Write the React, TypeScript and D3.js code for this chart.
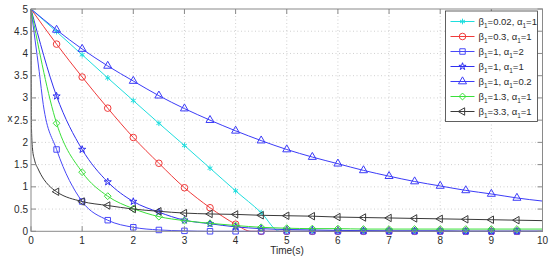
import React from 'react';
import * as d3 from 'd3';

// axis ticks
const timeTicks = [0, 1, 2, 3, 4, 5, 6, 7, 8, 9, 10];
const xTicks = [0, 0.5, 1, 1.5, 2, 2.5, 3, 3.5, 4, 4.5, 5];

const grid = [0, 0.5, 1, 1.5, 2, 2.5, 3, 3.5, 4, 4.5, 5, 5.5, 6, 6.5, 7, 7.5, 8, 8.5, 9, 9.5, 10];

// beta1=0.02, alpha1=1
const cyanT = [0, 0.5, 1, 1.5, 2, 2.5, 3, 3.5, 4, 4.5, 4.86, 5, 5.5, 6, 6.5, 7, 7.5, 8, 8.5, 9, 9.5, 10];
const cyanX = [5, 4.49, 3.97, 3.45, 2.94, 2.43, 1.93, 1.42, 0.91, 0.42, 0, 0, 0, 0, 0, 0, 0, 0, 0, 0, 0, 0];
// beta1=0.3, alpha1=1
const redT = [0, 0.5, 1, 1.5, 2, 2.5, 3, 3.5, 4, 4.3, 4.5, 5, 5.5, 6, 6.5, 7, 7.5, 8, 8.5, 9, 9.5, 10];
const redX = [5, 4.21, 3.47, 2.77, 2.11, 1.53, 0.98, 0.53, 0.16, 0, 0, 0, 0, 0, 0, 0, 0, 0, 0, 0, 0, 0];
// beta1=1, alpha1=2
const squareT = [0, 0.08, 0.16, 0.24, 0.5, 1, 1.5, 2, 2.5, 3, 3.5, 4, 4.5, 5, 5.5, 6, 6.5, 7, 7.5, 8, 8.5, 9, 9.5, 10];
const squareX = [5, 4.3, 3.6, 2.85, 1.84, 0.67, 0.25, 0.09, 0.03, 0.01, 0, 0, 0, 0, 0, 0, 0, 0, 0, 0, 0, 0, 0, 0];
// beta1=1, alpha1=1
const starX = [5, 3.04, 1.84, 1.11, 0.67, 0.43, 0.25, 0.17, 0.1, 0.06, 0.04, 0.03, 0.02, 0.015, 0.01, 0.01, 0.01, 0, 0, 0, 0];
// beta1=1, alpha1=0.2
const triX = [5, 4.53, 4.1, 3.72, 3.38, 3.05, 2.76, 2.5, 2.26, 2.04, 1.84, 1.67, 1.52, 1.37, 1.24, 1.12, 1.02, 0.92, 0.84, 0.75, 0.68];
// beta1=1.3, alpha1=1
const greenX = [5, 2.43, 1.33, 0.79, 0.51, 0.33, 0.24, 0.18, 0.13, 0.09, 0.07, 0.06, 0.06, 0.05, 0.05, 0.05, 0.05, 0.05, 0.05, 0.05, 0.05];
// beta1=3.3, alpha1=1
const blackT = [0, 0.01, 0.03, 0.07, 0.14, 0.25, 0.35, 0.5, 1, 1.5, 2, 2.5, 3, 3.5, 4, 4.5, 5, 5.5, 6, 6.5, 7, 7.5, 8, 8.5, 9, 9.5, 10];
const blackX = [5, 2.3, 1.85, 1.6, 1.4, 1.17, 1.03, 0.89, 0.67, 0.58, 0.5, 0.45, 0.41, 0.39, 0.38, 0.36, 0.35, 0.34, 0.32, 0.31, 0.3, 0.29, 0.28, 0.27, 0.26, 0.25, 0.24];

const series = [
  { beta: '0.02', alpha: '1', t: cyanT, x: cyanX, color: '#1fdede', sym: d3.symbolAsterisk, size: 22, rot: 0 },
  { beta: '0.3', alpha: '1', t: redT, x: redX, color: '#f03a3a', sym: d3.symbolCircle, size: 34, rot: 0 },
  { beta: '1', alpha: '2', t: squareT, x: squareX, color: '#4848f8', sym: d3.symbolSquare, size: 30, rot: 0 },
  { beta: '1', alpha: '1', t: grid, x: starX, color: '#3030f0', sym: d3.symbolStar, size: 16, rot: 0 },
  { beta: '1', alpha: '0.2', t: grid, x: triX, color: '#3c3cf8', sym: d3.symbolTriangle, size: 28, rot: 0 },
  { beta: '1.3', alpha: '1', t: grid, x: greenX, color: '#3ae03a', sym: d3.symbolDiamond2, size: 30, rot: 0 },
  { beta: '3.3', alpha: '1', t: blackT, x: blackX, color: '#3a3a3a', sym: d3.symbolTriangle, size: 24, rot: -90 },
];

const W = 550;
const H = 260;
const font = '"Liberation Sans", Arial, sans-serif';

export default function App() {
  const xs = d3.scaleLinear().domain([0, 10]).range([31, 542.5]);
  const ys = d3.scaleLinear().domain([0, 5]).range([231.3, 9]);
  const [x0, x1] = xs.range();
  const [y0, y1] = ys.range();

  const line = d3.line<[number, number]>()
    .x(d => xs(d[0]))
    .y(d => ys(d[1]))
    .curve(d3.curveMonotoneX);

  const isMarker = (t: number) => t >= 0.5 && t <= 9.5 && Math.abs(t * 2 - Math.round(t * 2)) < 1e-6;

  const lgX = 445.5, lgY = 11, lgW = 92, rowH = 15;

  return (
    <svg width={W} height={H} style={{ position: 'absolute', left: 0, top: 0, background: '#fff' }} fontFamily={font}>
      {/* grid */}
      <g stroke="#c4c4c4" strokeWidth={0.8} strokeDasharray="1,2.5">
        {timeTicks.slice(1, -1).map(t => (
          <line key={'gx' + t} x1={xs(t)} x2={xs(t)} y1={y1} y2={y0} />
        ))}
        {xTicks.slice(1, -1).map(v => (
          <line key={'gy' + v} x1={x0} x2={x1} y1={ys(v)} y2={ys(v)} />
        ))}
      </g>

      {/* series */}
      {series.map((s, i) => (
        <g key={i}>
          <path d={line(s.t.map((t, j) => [t, s.x[j]] as [number, number])) || ''} fill="none" stroke={s.color} strokeWidth={1} />
          {s.t.map((t, j) => isMarker(t) ? (
            <path key={j}
              d={d3.symbol(s.sym, s.size)() || ''}
              transform={`translate(${xs(t)},${ys(s.x[j])}) rotate(${s.rot})`}
              fill="none" stroke={s.color} strokeWidth={1} />
          ) : null)}
        </g>
      ))}

      {/* frame and ticks */}
      <rect x={x0} y={y1} width={x1 - x0} height={y0 - y1} fill="none" stroke="#8a8a8a" strokeWidth={1} />
      <g stroke="#8a8a8a" strokeWidth={1}>
        {timeTicks.map(t => (
          <g key={'tx' + t}>
            <line x1={xs(t)} x2={xs(t)} y1={y0} y2={y0 - 5} />
            <line x1={xs(t)} x2={xs(t)} y1={y1} y2={y1 + 5} />
          </g>
        ))}
        {xTicks.map(v => (
          <g key={'ty' + v}>
            <line x1={x0} x2={x0 + 5} y1={ys(v)} y2={ys(v)} />
            <line x1={x1} x2={x1 - 5} y1={ys(v)} y2={ys(v)} />
          </g>
        ))}
      </g>

      {/* tick labels */}
      <g fontSize={10} fill="#2a2a2a">
        {timeTicks.map(t => (
          <text key={'lx' + t} x={xs(t)} y={244} textAnchor="middle">{t}</text>
        ))}
        {xTicks.map(v => (
          <text key={'ly' + v} x={28} y={ys(v) + 3.5} textAnchor="end">{v}</text>
        ))}
        <text x={287} y={253.5} textAnchor="middle">Time(s)</text>
        <text x={10} y={122} textAnchor="middle">x</text>
      </g>

      {/* legend */}
      <rect x={lgX} y={lgY} width={lgW} height={rowH * series.length + 5.5} fill="#fff" stroke="#3a3a3a" strokeWidth={0.8} />
      {series.map((s, i) => {
        const cy = lgY + 10.5 + i * rowH;
        return (
          <g key={'lg' + i}>
            <line x1={lgX + 5} x2={lgX + 29} y1={cy} y2={cy} stroke={s.color} strokeWidth={1} />
            <path d={d3.symbol(s.sym, s.size)() || ''}
              transform={`translate(${lgX + 17},${cy}) rotate(${s.rot})`}
              fill="none" stroke={s.color} strokeWidth={1} />
            <text x={lgX + 33} y={cy + 3.5} fontSize={9.5} fill="#2a2a2a">
              β<tspan fontSize={6.5} dy={3}>1</tspan>
              <tspan dy={-3}>={s.beta}, α</tspan>
              <tspan fontSize={6.5} dy={3}>1</tspan>
              <tspan dy={-3}>={s.alpha}</tspan>
            </text>
          </g>
        );
      })}
    </svg>
  );
}
